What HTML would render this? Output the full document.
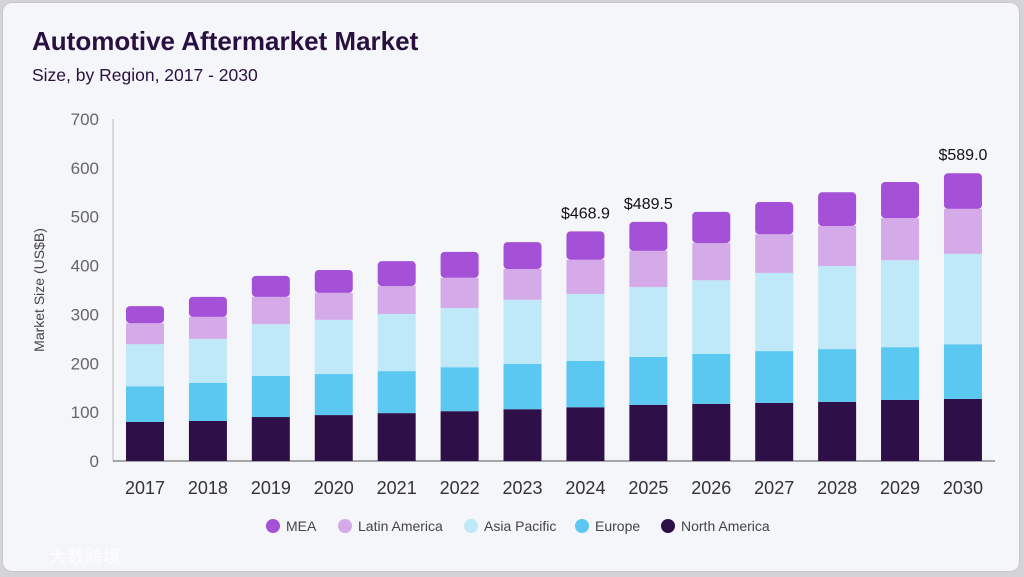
<!DOCTYPE html>
<html><head><meta charset="utf-8"><style>
html,body{margin:0;padding:0;width:1024px;height:576px;overflow:hidden;background:#d4d4d6;font-family:"Liberation Sans",sans-serif}
#card{position:absolute;left:2px;top:2px;width:1016px;height:568px;background:#f5f6fa;border:1px solid #c8c8cc;border-radius:10px}
</style></head><body>
<div id="card">
<svg id="chart" width="1024" height="576" style="position:absolute;left:-2px;top:-2px">
<text x="31" y="49" font-size="26" font-weight="bold" fill="#2a1040">Automotive Aftermarket Market</text>
<text x="31" y="80" font-size="17.5" fill="#2a1040">Size, by Region, 2017 - 2030</text>
<text transform="translate(43,289) rotate(-90)" text-anchor="middle" font-size="14" fill="#444">Market Size (US$B)</text>
<g id="yaxis"></g><g id="bars"></g><g id="xaxis"></g><g id="labels"></g><g id="legend"></g>
<text x="48" y="562" font-size="18" fill="#fff" opacity="0.8">大数跨境</text>
</svg></div>
<script>
const years=["2017","2018","2019","2020","2021","2022","2023","2024","2025","2026","2027","2028","2029","2030"];
const northAmerica=[80,82,90,94,98,102,106,110,115,117,119,121,125,127];
const europe=[73,78,84,84,86,90,93,95,98,102,106,108,108,112];
const asiaPacific=[86,90,106,111,117,121,131,137,143,151,160,170,178,185];
const latinAmerica=[43,45,56,55,57,62,63,70,74,76,79,82,86,92];
const mea=[35,41,43,47,51,53,55,57.9,59.5,64,66,69,74,73];
const yTicks=[0,100,200,300,400,500,600,700];
const totalLabels={"2024":"$468.9","2025":"$489.5","2030":"$589.0"};
const seriesNames=["MEA","Latin America","Asia Pacific","Europe","North America"];
const NS="http://www.w3.org/2000/svg";
const y=v=>460-v*(342/700);
const x=i=>144+i*62.92;
const bw=38;
function mk(tag,attrs,parent,text){const e=document.createElementNS(NS,tag);for(const k in attrs)e.setAttribute(k,attrs[k]);if(text!==undefined)e.textContent=text;parent.appendChild(e);return e;}
const ya=document.getElementById('yaxis');
mk('line',{x1:112,x2:112,y1:118,y2:460,stroke:'#bbb'},ya);
mk('line',{x1:112,x2:994,y1:460,y2:460,stroke:'#555'},ya);
yTicks.forEach(t=>{const e=mk('text',{x:98,y:y(t)+6,'text-anchor':'end','font-size':17,fill:'#666'},ya,t);

});
const series=[northAmerica,europe,asiaPacific,latinAmerica,mea];
const colors=["#2e0f47","#5bc8f1","#bfe8f8","#d4aae8","#a451d7"];
const snames=["north-america","europe","asia-pacific","latin-america","mea"];
const bg=document.getElementById('bars'),xa=document.getElementById('xaxis'),lb=document.getElementById('labels');
years.forEach((yr,i)=>{let cum=0;
series.forEach((s,k)=>{const v=s[i];const r=mk('rect',{x:x(i)-bw/2,y:y(cum+v),width:bw,height:y(cum)-y(cum+v),fill:colors[k],rx:(k==4?4:0)},bg);


cum+=v;});
const t=mk('text',{x:x(i),y:493,'text-anchor':'middle','font-size':18,fill:'#333'},xa,yr);


if(totalLabels[yr]){const l=mk('text',{x:x(i),y:y(cum)-13,'text-anchor':'middle','font-size':16,fill:'#111'},lb,totalLabels[yr]);

}
});
const lg=document.getElementById('legend');
const lx=[272,344,470,581,667];const lc=[colors[4],colors[3],colors[2],colors[1],colors[0]];
seriesNames.forEach((n,k)=>{const g=mk('g',{},lg);


mk('circle',{cx:lx[k],cy:525,r:7,fill:lc[k]},g);
mk('text',{x:lx[k]+13,y:530,'font-size':14,fill:'#444'},g,n);});
</script>
</body></html>
